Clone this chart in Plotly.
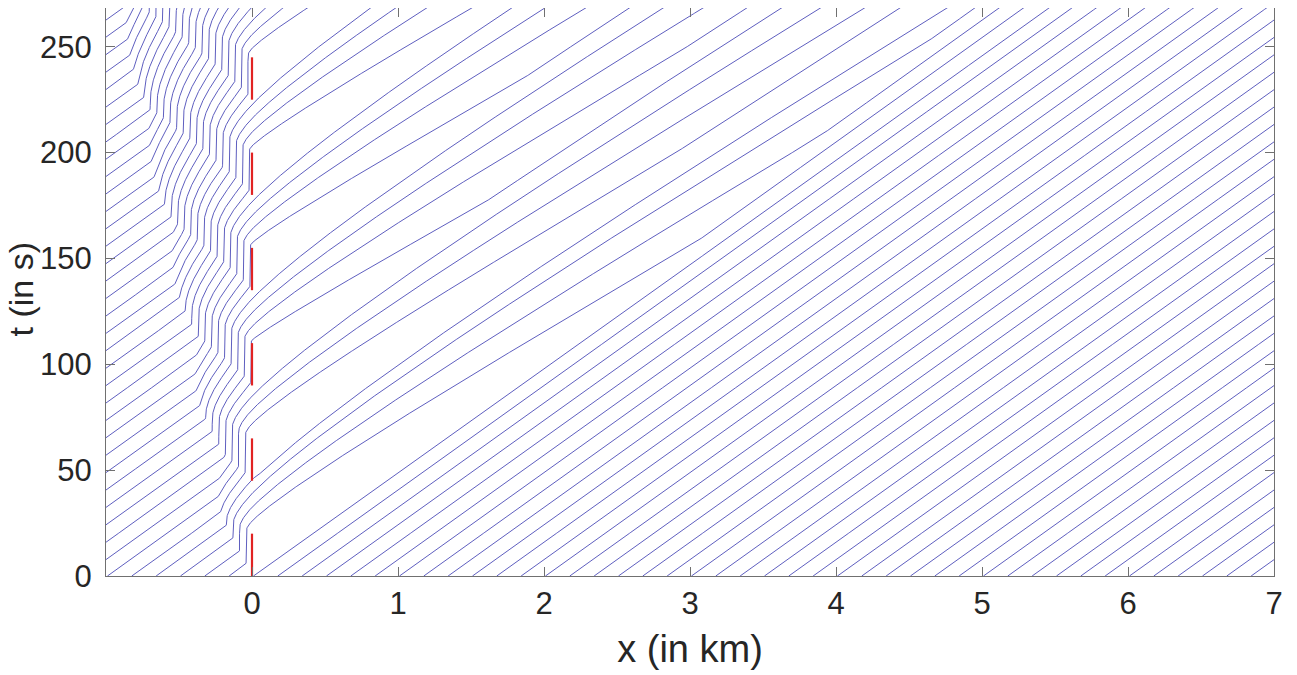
import numpy as np
import plotly.graph_objects as go

# ---- values ----
red_start = [0, 45, 90, 135, 180, 225]      # s, start of each red phase at x = 0
red_end = [20, 65, 110, 155, 200, 245]      # s, end of each red phase
x_ticks = [0, 1, 2, 3, 4, 5, 6, 7]
t_ticks = [0, 50, 100, 150, 200, 250]
x_range = [-1, 7]
t_range = [0, 268.3]
free_speed_kmh = [100.0]        # free-flow speed of the model (km/h)
jam_density = [22.2]            # veh/km (queue spacing ~45 m)
initial_density = [6.0]         # veh/km (spacing ~1/6 km between trajectories)
first_vehicle_x = [0.01]        # km, trajectory starting at the stop line at t = 0
signal_x = [0.0]                # km

# ---- LWR (Greenshields) model evaluated on a grid, trajectories traced through it ----
vf = free_speed_kmh[0] / 3600.0
kj = jam_density[0]
k0 = initial_density[0]
kc = kj / 2.0


def speed(k):
    return vf * (1.0 - k / kj)


def flow(k):
    return k * speed(k)


def demand(k):
    return flow(np.minimum(k, kc))


def supply(k):
    return flow(np.maximum(k, kc))


dx = 0.005
x_left, x_right = -2.0, 7.5
edges = np.arange(x_left, x_right + dx / 2, dx)
xc = 0.5 * (edges[1:] + edges[:-1])
k = np.full(xc.size, k0)
i_sig = int(round((signal_x[0] - x_left) / dx))

dt = 0.1
t_end = 269.0
nsteps = int(np.ceil(t_end / dt))
spacing = 1.0 / k0
veh_index = np.arange(-45, 44)
xv = first_vehicle_x[0] + veh_index * spacing
v0 = speed(k0)

rec_every = 2
traj = [xv.copy()]
times = [0.0]


def is_red(t):
    return any(a <= t < b for a, b in zip(red_start, red_end))


t = 0.0
for n in range(nsteps):
    vc = speed(k)
    vveh = np.interp(xv, xc, vc, left=v0, right=vc[-1])
    F = np.empty(edges.size)
    F[0] = min(demand(np.array(k0)), supply(k[0]))
    F[1:-1] = np.minimum(demand(k[:-1]), supply(k[1:]))
    F[-1] = demand(k[-1])
    if is_red(t):
        F[i_sig] = 0.0
    k = k - dt / dx * (F[1:] - F[:-1])
    k = np.clip(k, 0.0, kj)
    xv = xv + vveh * dt
    t += dt
    if (n + 1) % rec_every == 0 or n == nsteps - 1:
        traj.append(xv.copy())
        times.append(t)

traj = np.array(traj)
times = np.array(times)

xs, ys = [], []
for j in range(traj.shape[1]):
    xs.extend(np.round(traj[:, j], 5).tolist())
    ys.extend(np.round(times, 3).tolist())
    xs.append(None)
    ys.append(None)

rx, ry = [], []
for a, b in zip(red_start, red_end):
    rx += [signal_x[0], signal_x[0], None]
    ry += [a, b, None]

fig = go.Figure()
fig.add_trace(go.Scatter(x=xs, y=ys, mode="lines",
                         line=dict(color="rgb(65,65,180)", width=0.85),
                         hoverinfo="skip", showlegend=False))
fig.add_trace(go.Scatter(x=rx, y=ry, mode="lines",
                         line=dict(color="rgb(225,35,35)", width=2.2),
                         hoverinfo="skip", showlegend=False))

font_family = "Liberation Sans, Arial, sans-serif"
axis_common = dict(showgrid=False, zeroline=False, showline=True,
                   linecolor="#707070", linewidth=1, mirror="ticks",
                   ticks="inside", ticklen=9, tickcolor="#707070", tickwidth=1,
                   tickfont=dict(family=font_family, size=31, color="#262626"))
fig.update_layout(
    # the page body adds an 8 px offset, so the figure is 8 px smaller
    width=1289, height=667,
    margin=dict(l=98, r=23, t=0, b=99),
    paper_bgcolor="white", plot_bgcolor="white",
    xaxis=dict(range=x_range, tickvals=x_ticks, ticktext=[str(v) for v in x_ticks],
               ticklabelstandoff=0,
               title=dict(text="x (in km)", font=dict(family=font_family, size=38, color="#262626"),
                          standoff=15),
               **axis_common),
    yaxis=dict(range=t_range, tickvals=t_ticks, ticktext=[str(v) for v in t_ticks],
               ticklabelstandoff=7,
               **axis_common),
)
# y-axis title placed as a rotated annotation left of the tick labels
fig.add_annotation(text="t (in s)", xref="paper", yref="paper",
                   x=-0.0725, y=0.505, xanchor="center", yanchor="middle",
                   textangle=-90, showarrow=False,
                   font=dict(family=font_family, size=34, color="#262626"))
fig.write_html("out.html")
